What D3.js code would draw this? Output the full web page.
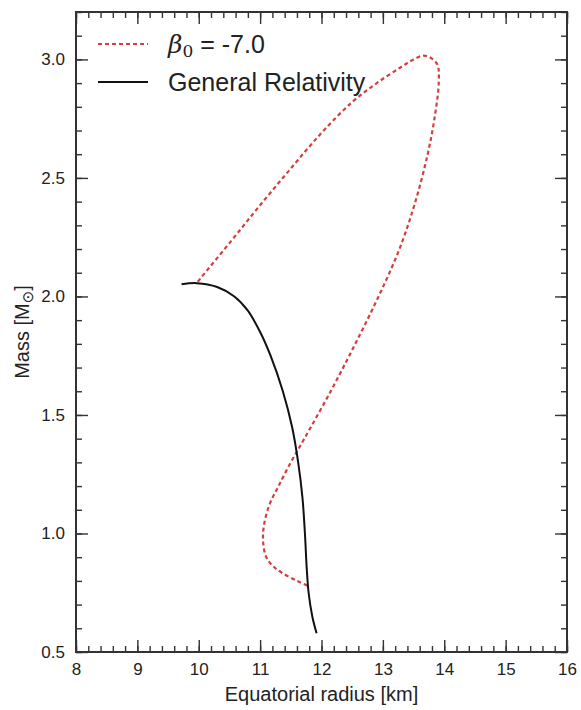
<!DOCTYPE html>
<html>
<head>
<meta charset="utf-8">
<script src="https://cdn.jsdelivr.net/npm/d3@7"></script>
<style>
  body { margin: 0; background: #fff; }
  svg text { font-family: "Liberation Sans", Arial, sans-serif; fill: #222; }
</style>
</head>
<body>
<div id="chart"></div>
<script>
// radius [km] and mass [Msun]
let grRadius = [9.72, 9.97, 10.3, 10.58, 10.8, 11.0, 11.17, 11.37, 11.52, 11.62, 11.69, 11.73, 11.76, 11.79, 11.85, 11.92];
let grMass   = [2.051, 2.056, 2.04, 2.0, 1.94, 1.85, 1.75, 1.6, 1.45, 1.3, 1.15, 1.0, 0.85, 0.75, 0.65, 0.579];

let betaRadius = [11.77, 11.6, 11.35, 11.2, 11.1, 11.05, 11.06, 11.15, 11.3, 11.5, 11.72, 12.15, 12.55, 12.93,
                  13.27, 13.53, 13.73, 13.84, 13.91, 13.89, 13.79, 13.66, 13.5, 13.28, 12.9, 12.5, 12.0, 11.5, 11.0, 10.5, 9.97];
let betaMass   = [0.78, 0.80, 0.835, 0.865, 0.9, 0.96, 1.03, 1.12, 1.2, 1.3, 1.4, 1.6, 1.8, 2.0,
                  2.2, 2.4, 2.6, 2.75, 2.9, 2.977, 3.005, 3.016, 3.0, 2.965, 2.9, 2.82, 2.69, 2.54, 2.385, 2.225, 2.058];

let xTicks = [8, 9, 10, 11, 12, 13, 14, 15, 16];
let yTicks = [0.5, 1.0, 1.5, 2.0, 2.5, 3.0];

let WIDTH = 581, HEIGHT = 710;
let LEFT = 76, RIGHT = 567, TOP = 12, BOTTOM = 652;
let AXIS_COLOR = "#333";

let svg = d3.select("#chart").append("svg")
    .attr("width", WIDTH)
    .attr("height", HEIGHT);

let x = d3.scaleLinear().domain([8, 16]).range([LEFT, RIGHT]);
let y = d3.scaleLinear().domain([0.5, 3.2]).range([BOTTOM, TOP]);

// minor ticks
let xMinor = d3.range(8, 16.001, 0.2).map(v => +v.toFixed(1));
let yMinor = d3.range(0.5, 3.2001, 0.1).map(v => +v.toFixed(1));

function styleAxis(g) {
    g.select(".domain").remove();
    g.selectAll("line").attr("stroke", AXIS_COLOR).attr("stroke-width", 1.4);
}

// bottom / top (ticks point inward)
svg.append("g").attr("transform", `translate(0,${BOTTOM})`)
    .call(d3.axisBottom(x).tickValues(xMinor).tickSize(-6).tickFormat(""))
    .call(styleAxis);
svg.append("g").attr("transform", `translate(0,${BOTTOM})`)
    .call(d3.axisBottom(x).tickValues(xTicks).tickSize(-12).tickPadding(11).tickFormat(d3.format("d")))
    .call(styleAxis)
    .call(g => g.selectAll("text").attr("font-size", 17).attr("fill", "#222"));
svg.append("g").attr("transform", `translate(0,${TOP})`)
    .call(d3.axisTop(x).tickValues(xMinor).tickSize(-6).tickFormat(""))
    .call(styleAxis);
svg.append("g").attr("transform", `translate(0,${TOP})`)
    .call(d3.axisTop(x).tickValues(xTicks).tickSize(-12).tickFormat(""))
    .call(styleAxis);

// left / right
svg.append("g").attr("transform", `translate(${LEFT},0)`)
    .call(d3.axisLeft(y).tickValues(yMinor).tickSize(-6).tickFormat(""))
    .call(styleAxis);
svg.append("g").attr("transform", `translate(${LEFT},0)`)
    .call(d3.axisLeft(y).tickValues(yTicks).tickSize(-12).tickPadding(11).tickFormat(d3.format(".1f")))
    .call(styleAxis)
    .call(g => g.selectAll("text").attr("font-size", 17).attr("fill", "#222"));
svg.append("g").attr("transform", `translate(${RIGHT},0)`)
    .call(d3.axisRight(y).tickValues(yMinor).tickSize(-6).tickFormat(""))
    .call(styleAxis);
svg.append("g").attr("transform", `translate(${RIGHT},0)`)
    .call(d3.axisRight(y).tickValues(yTicks).tickSize(-12).tickFormat(""))
    .call(styleAxis);

// frame
svg.append("rect")
    .attr("x", LEFT).attr("y", TOP)
    .attr("width", RIGHT - LEFT).attr("height", BOTTOM - TOP)
    .attr("fill", "none")
    .attr("stroke", AXIS_COLOR)
    .attr("stroke-width", 2);

// curves
let line = d3.line()
    .x(d => x(d[0]))
    .y(d => y(d[1]))
    .curve(d3.curveCatmullRom.alpha(0.5));

let grData = grRadius.map((r, i) => [r, grMass[i]]);
let betaData = betaRadius.map((r, i) => [r, betaMass[i]]);

svg.append("path")
    .datum(betaData)
    .attr("d", line)
    .attr("fill", "none")
    .attr("stroke", "#d2403e")
    .attr("stroke-width", 2.2)
    .attr("stroke-dasharray", "4,3");

svg.append("path")
    .datum(grData)
    .attr("d", line)
    .attr("fill", "none")
    .attr("stroke", "#111")
    .attr("stroke-width", 2);

// legend
let legend = svg.append("g");
legend.append("line")
    .attr("x1", 98).attr("x2", 148).attr("y1", 44).attr("y2", 44)
    .attr("stroke", "#d2403e").attr("stroke-width", 2.2).attr("stroke-dasharray", "4,3");
let betaLabel = legend.append("text").attr("x", 168).attr("y", 53).attr("font-size", 25);
betaLabel.append("tspan").text("β")
    .attr("font-family", "DejaVu Serif, serif").attr("font-style", "italic");
betaLabel.append("tspan").text("0")
    .attr("font-family", "DejaVu Serif, serif").attr("font-size", 17).attr("dy", 4);
betaLabel.append("tspan").text(" = -7.0").attr("dy", -4);

legend.append("line")
    .attr("x1", 98).attr("x2", 148).attr("y1", 82).attr("y2", 82)
    .attr("stroke", "#111").attr("stroke-width", 2);
legend.append("text").attr("x", 168).attr("y", 91).attr("font-size", 25).text("General Relativity");

// axis titles
svg.append("text")
    .attr("x", (LEFT + RIGHT) / 2).attr("y", 701)
    .attr("text-anchor", "middle").attr("font-size", 20)
    .text("Equatorial radius [km]");

let yTitle = svg.append("text")
    .attr("transform", `translate(29,${(TOP + BOTTOM) / 2}) rotate(-90)`)
    .attr("text-anchor", "middle").attr("font-size", 20);
yTitle.append("tspan").text("Mass [M");
yTitle.append("tspan").text("⊙").attr("font-size", 15).attr("dy", 4).attr("font-family", "DejaVu Sans, sans-serif");
yTitle.append("tspan").text("]").attr("dy", -4);
</script>
</body>
</html>
